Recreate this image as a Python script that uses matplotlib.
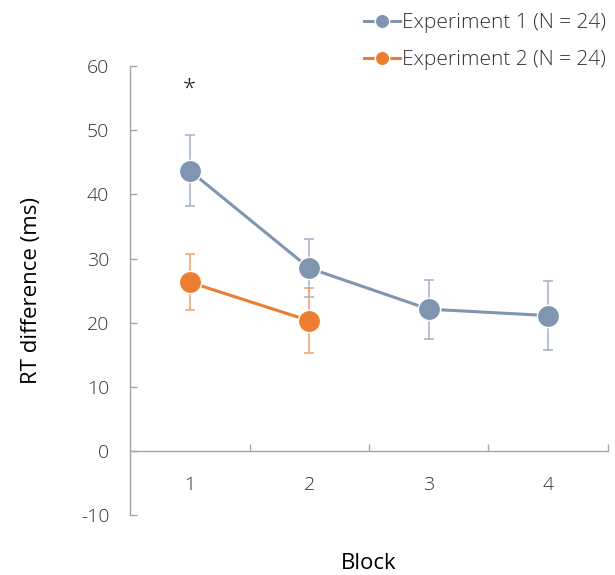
import numpy as np
import matplotlib
matplotlib.use('Agg')
import matplotlib.pyplot as plt

blocks = [1, 2, 3, 4]
exp1_mean = [43.7, 28.5, 22.1, 21.1]
exp1_err = [5.5, 4.5, 4.6, 5.4]
exp2_blocks = [1, 2]
exp2_mean = [26.3, 20.3]
exp2_err = [4.4, 5.1]
yticks = [-10, 0, 10, 20, 30, 40, 50, 60]

blue = '#8096B0'
orange = '#ED7D31'
axis_grey = '#A6A6A6'
text_col = '#333333'

plt.rcParams['font.family'] = ['Open Sans', 'DejaVu Sans']
plt.rcParams['font.weight'] = 'light'
plt.rcParams['axes.unicode_minus'] = False

fig = plt.figure(figsize=(6.15, 5.75), dpi=100)
ax = fig.add_axes([0.2114, 0.1043, 0.7772, 0.7807])

ax.errorbar(blocks, exp1_mean, yerr=exp1_err, fmt='none', ecolor='#A9B8CB',
            elinewidth=1.2, capsize=3.5, capthick=1.2, zorder=2)
ax.errorbar(exp2_blocks, exp2_mean, yerr=exp2_err, fmt='none', ecolor='#F2A57A',
            elinewidth=1.2, capsize=3.5, capthick=1.2, zorder=2)
ax.plot(blocks, exp1_mean, '-o', color=blue, lw=2.2, ms=16, mec='white', mew=1,
        zorder=3, label='Experiment 1 (N = 24)')
ax.plot(exp2_blocks, exp2_mean, '-o', color=orange, lw=2.2, ms=16, mec='white', mew=1,
        zorder=3, label='Experiment 2 (N = 24)')

# significance marker
ax.text(1, 56.3, '*', ha='center', va='center', fontsize=17, color='#202020')

ax.set_xlim(0.5, 4.5)
ax.set_ylim(-10, 60)
ax.set_yticks(yticks)
ax.set_xticks(blocks)
ax.set_xticks([1.5, 2.5, 3.5, 4.5], minor=True)

for s in ['top', 'right']:
    ax.spines[s].set_visible(False)
ax.spines['bottom'].set_position(('data', 0))
for s in ['left', 'bottom']:
    ax.spines[s].set_color(axis_grey)
    ax.spines[s].set_linewidth(1.0)

ax.tick_params(axis='y', direction='in', length=5, width=1, color=axis_grey,
               labelsize=14, labelcolor=text_col, pad=15)
ax.tick_params(axis='x', which='major', length=0, labelsize=14,
               labelcolor=text_col, pad=18)
ax.tick_params(axis='x', which='minor', direction='in', length=5, width=1,
               color=axis_grey)

ax.set_ylabel('RT difference (ms)', fontsize=16, color='black')
ax.yaxis.set_label_coords(-0.185, 0.5)
ax.set_xlabel('Block', fontsize=16, color='black')
ax.xaxis.set_label_coords(0.5, -0.085)

handles, labels = ax.get_legend_handles_labels()
leg = fig.legend(handles, labels, loc='upper right', bbox_to_anchor=(1.0, 0.993),
                 frameon=False, fontsize=15, markerscale=0.65, handlelength=1.7,
                 handletextpad=0.1, labelspacing=0.8, borderaxespad=0.05)
for t in leg.get_texts():
    t.set_color(text_col)

fig.savefig('out.png', dpi=100)
